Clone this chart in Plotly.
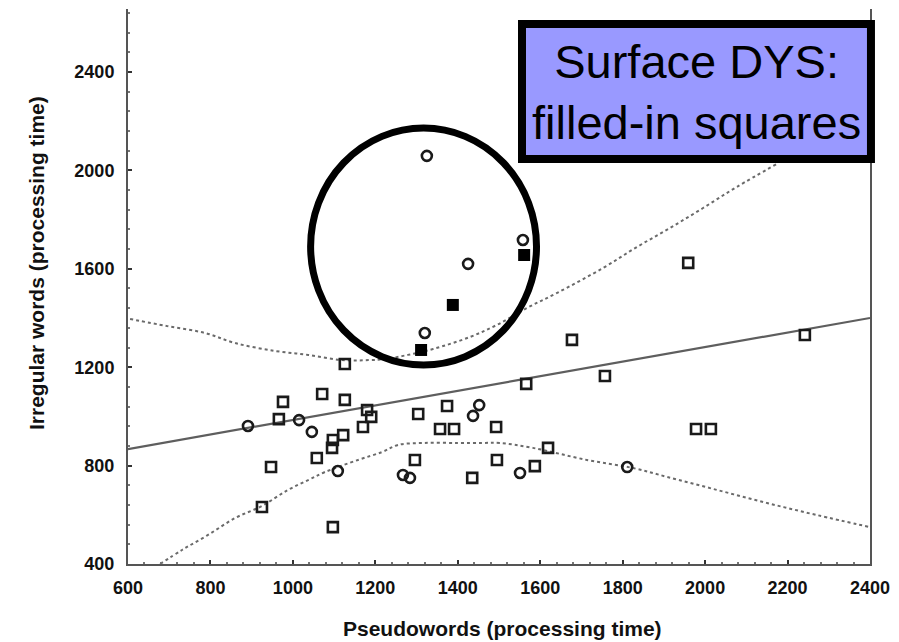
import plotly.graph_objects as go

# Open squares: pseudoword vs irregular-word processing times
sq_x = [1126, 976, 1071, 1126, 1180, 1190, 1170, 1304, 1374, 966, 1097, 1122, 1095,
        1357, 1391, 1493, 947, 1058, 1296, 1435, 1495, 1587, 1619, 925, 1097, 1566,
        1757, 1677, 1959, 2242, 1978, 2014]
sq_y = [1213, 1059, 1091, 1067, 1026, 998, 957, 1010, 1042, 989, 904, 924, 872,
        949, 949, 957, 794, 831, 823, 750, 823, 798, 872, 632, 550, 1132,
        1164, 1311, 1624, 1331, 949, 949]

# Open circles
ci_x = [1325, 1425, 1558, 1320, 891, 1015, 1046, 1109, 1267, 1284, 1551, 1811, 1452, 1437]
ci_y = [2059, 1620, 1717, 1339, 961, 985, 937, 778, 762, 750, 770, 794, 1046, 1002]

# Filled squares: surface dyslexia cases
dys_x = [1561, 1388, 1311]
dys_y = [1656, 1453, 1270]

# Regression line end points
reg_x = [600, 2400]
reg_y = [867, 1400]

# Confidence band, upper and lower curves
up_x = [605, 695, 787, 860, 957, 1037, 1119, 1187, 1223, 1279, 1340, 1430, 1495,
        1568, 1641, 1752, 1835, 1915, 1995, 2077, 2174]
up_y = [1396, 1367, 1339, 1298, 1266, 1250, 1229, 1229, 1233, 1250, 1274, 1323, 1372,
        1441, 1502, 1603, 1689, 1766, 1847, 1933, 2026]
lo_x = [678, 731, 794, 860, 925, 988, 1037, 1078, 1158, 1216, 1255, 1320, 1401, 1461,
        1502, 1582, 1713, 1825, 1908, 2029, 2150, 2271, 2400]
lo_y = [400, 457, 518, 587, 636, 701, 741, 774, 823, 855, 884, 892, 892, 892,
        892, 872, 823, 790, 754, 701, 648, 599, 550]

x_ticks = [600, 800, 1000, 1200, 1400, 1600, 1800, 2000, 2200, 2400]
x_labels = ["600", "800", "1000", "1200", "1400", "1600", "1800", "2000", "2200", "2400"]
y_ticks = [400, 800, 1200, 1600, 2000, 2400]
y_labels = ["400", "800", "1200", "1600", "2000", "2400"]

narrow = "Liberation Sans Narrow, Arial Narrow, Liberation Sans, Arial, sans-serif"
band_color = "#6a6a6a"

fig = go.Figure()
fig.add_trace(go.Scatter(x=reg_x, y=reg_y, mode="lines",
                         line=dict(color="#5e5e5e", width=2.2)))
fig.add_trace(go.Scatter(x=up_x, y=up_y, mode="lines", line_shape="spline",
                         line=dict(color=band_color, width=2, dash="dot")))
fig.add_trace(go.Scatter(x=lo_x, y=lo_y, mode="lines", line_shape="spline",
                         line=dict(color=band_color, width=2, dash="dot")))
fig.add_trace(go.Scatter(x=sq_x, y=sq_y, mode="markers",
                         marker=dict(symbol="square-open", size=10, color="#1a1a1a",
                                     line=dict(width=2.6))))
fig.add_trace(go.Scatter(x=ci_x, y=ci_y, mode="markers",
                         marker=dict(symbol="circle-open", size=10, color="#1a1a1a",
                                     line=dict(width=2.6))))
fig.add_trace(go.Scatter(x=dys_x, y=dys_y, mode="markers",
                         marker=dict(symbol="square", size=12, color="#000000")))

axis_common = dict(showgrid=False, zeroline=False, showline=True, linecolor="#555555",
                   linewidth=2, ticks="inside", ticklen=4, tickwidth=1.5,
                   tickcolor="#333333",
                   tickfont=dict(family=narrow, size=18, color="#111111", weight="bold"))

fig.update_xaxes(range=[600, 2400], tickvals=x_ticks, ticktext=x_labels,
                 minor=dict(dtick=40, ticks="inside", ticklen=2, tickcolor="#777777"),
                 ticklabelstandoff=6, **axis_common)
fig.update_yaxes(range=[400, 2656], tickvals=y_ticks, ticktext=y_labels, mirror=True,
                 minor=dict(dtick=80, ticks="inside", ticklen=2, tickcolor="#777777"),
                 ticklabelstandoff=8, **axis_common)

# Highlight ring around the surface-dyslexia cluster
fig.add_shape(type="circle", xref="x", yref="y", x0=1043, x1=1591, y0=1209, y1=2172,
              line=dict(color="black", width=7), layer="above")
# Label box
fig.add_shape(type="rect", xref="paper", yref="paper", x0=0.531, x1=1.0013,
              y0=0.7297, y1=0.973, fillcolor="#9999ff",
              line=dict(color="black", width=8), layer="above")

fig.add_annotation(xref="paper", yref="paper", x=0.7655, y=0.851,
                   text="Surface DYS:<br>filled-in squares", showarrow=False,
                   font=dict(family="Liberation Sans, Arial, sans-serif", size=47,
                             color="black"),
                   xanchor="center", yanchor="middle")
fig.add_annotation(xref="paper", yref="paper", x=(502 - 128) / 742, y=-(628 - 564) / 555,
                   text="Pseudowords (processing time)", showarrow=False,
                   font=dict(family=narrow, size=21, color="#111111", weight="bold"),
                   xanchor="center", yanchor="middle")
fig.add_annotation(xref="paper", yref="paper", x=-(128 - 36) / 742, y=(564 - 263) / 555,
                   text="Irregular words (processing time)", showarrow=False, textangle=-90,
                   font=dict(family=narrow, size=21, color="#111111", weight="bold"),
                   xanchor="center", yanchor="middle")

fig.update_layout(width=899, height=642, showlegend=False,
                  margin=dict(l=128, r=29, t=9, b=78),
                  paper_bgcolor="white", plot_bgcolor="white")

fig.write_html("out.html")
